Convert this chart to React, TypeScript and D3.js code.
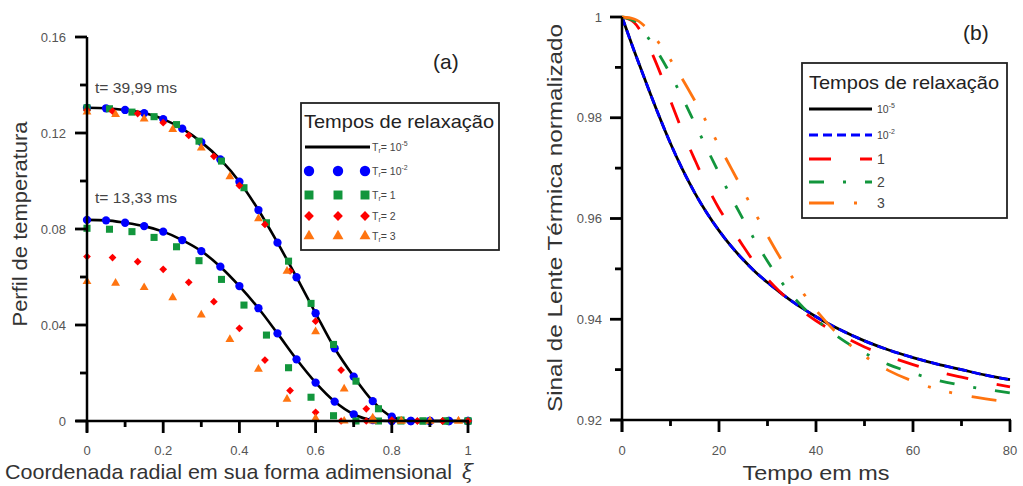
import React from 'react';
import * as d3 from 'd3';

// ---------- Panel (a) data ----------
const xiMajor = [0, 0.2, 0.4, 0.6, 0.8, 1];
const xiMajorLabels = ['0', '0.2', '0.4', '0.6', '0.8', '1'];
const xiMinor = [0.1, 0.3, 0.5, 0.7, 0.9];
const perfilMajor = [0, 0.04, 0.08, 0.12, 0.16];
const perfilMajorLabels = ['0', '0.04', '0.08', '0.12', '0.16'];
const perfilMinor = [0.02, 0.06, 0.1, 0.14];

// Tr = 1e-5 (line) and Tr = 1e-2 (blue circles)
const xiBlue = [0, 0.05, 0.1, 0.15, 0.2, 0.25, 0.3, 0.35, 0.4, 0.45, 0.5, 0.55, 0.6, 0.65, 0.7, 0.75, 0.8, 0.85, 0.9, 0.95, 1.0];
const upperBlue = [0.1305, 0.1303, 0.1296, 0.1283, 0.1258, 0.1218, 0.1162, 0.109, 0.0997, 0.0879, 0.0743, 0.0599, 0.0449, 0.0303, 0.0185, 0.0083, 0.0018, 0, 0, 0, 0];
const lowerBlue = [0.0838, 0.0836, 0.0826, 0.0812, 0.0789, 0.0754, 0.0708, 0.0643, 0.0562, 0.047, 0.0365, 0.0257, 0.016, 0.0081, 0.0028, 0.0004, 0, 0, 0, 0, 0];
const xiLine = [0, 0.05, 0.1, 0.15, 0.2, 0.25, 0.3, 0.35, 0.4, 0.45, 0.5, 0.55, 0.6, 0.65, 0.7, 0.75, 0.8, 0.85, 0.9, 0.95, 1.0];
const upperLine = [0.1305, 0.1303, 0.1296, 0.1283, 0.1258, 0.1218, 0.1162, 0.109, 0.0997, 0.0879, 0.0743, 0.0599, 0.0449, 0.0303, 0.0185, 0.0083, 0.0018, 0, 0, 0, 0];
const lowerLine = [0.0838, 0.0836, 0.0826, 0.0812, 0.0789, 0.0754, 0.0708, 0.0643, 0.0562, 0.047, 0.0365, 0.0257, 0.016, 0.0081, 0.0028, 0.0004, 0, 0, 0, 0, 0];

// Tr = 1 (green squares)
const xiGreen = [0, 0.059, 0.118, 0.176, 0.235, 0.294, 0.353, 0.412, 0.471, 0.529, 0.588, 0.647, 0.706, 0.765, 0.824, 0.882, 0.941, 1.0];
const upperGreen = [0.1305, 0.1301, 0.1287, 0.1268, 0.1235, 0.1166, 0.1083, 0.0972, 0.0826, 0.0666, 0.049, 0.0319, 0.0166, 0.0051, 0.0004, 0, 0, 0];
const lowerGreen = [0.0803, 0.0799, 0.0789, 0.0765, 0.0726, 0.0668, 0.059, 0.0483, 0.0358, 0.0222, 0.0099, 0.0022, 0, 0, 0, 0, 0, 0];

// Tr = 2 (red diamonds)
const xiRed = [0, 0.067, 0.133, 0.2, 0.267, 0.333, 0.4, 0.467, 0.533, 0.6, 0.667, 0.733, 0.8, 0.867, 0.933, 1.0];
const upperRed = [0.1295, 0.1291, 0.1281, 0.1243, 0.119, 0.1103, 0.0981, 0.0819, 0.0625, 0.0416, 0.0212, 0.0051, 0.0004, 0, 0, 0];
const lowerRed = [0.0685, 0.0681, 0.0664, 0.0632, 0.0578, 0.0497, 0.0386, 0.0254, 0.0127, 0.0036, 0, 0, 0, 0, 0, 0];

// Tr = 3 (orange triangles)
const xiOrange = [0, 0.075, 0.15, 0.225, 0.3, 0.375, 0.45, 0.525, 0.6, 0.675, 0.75, 0.825, 0.9, 0.975];
const upperOrange = [0.1288, 0.1277, 0.1259, 0.1215, 0.1138, 0.1018, 0.0843, 0.0624, 0.0372, 0.0134, 0.0013, 0, 0, 0];
const lowerOrange = [0.0581, 0.0574, 0.0556, 0.0514, 0.0442, 0.034, 0.0216, 0.0091, 0.0011, 0, 0, 0, 0, 0];

// ---------- Panel (b) data ----------
const tMajor = [0, 20, 40, 60, 80];
const tMajorLabels = ['0', '20', '40', '60', '80'];
const tMinor = [10, 30, 50, 70];
const sinalMajor = [0.92, 0.94, 0.96, 0.98, 1];
const sinalMajorLabels = ['0.92', '0.94', '0.96', '0.98', '1'];
const sinalMinor = [0.93, 0.95, 0.97, 0.99];

const tGrid = [0, 2.5, 5, 7.5, 10, 12.5, 15, 17.5, 20, 22.5, 25, 27.5, 30, 32.5, 35, 37.5, 40, 45, 50, 55, 60, 65, 70, 75, 80];
const sinalTr1e5 = [1.0, 0.9933, 0.9869, 0.9807, 0.9749, 0.9697, 0.9651, 0.9611, 0.9576, 0.9545, 0.9518, 0.9494, 0.9473, 0.9454, 0.9436, 0.942, 0.9405, 0.9379, 0.9357, 0.9339, 0.9324, 0.9311, 0.93, 0.9289, 0.928];
const sinalTr1e2 = [1.0, 0.9933, 0.9869, 0.9807, 0.9749, 0.9697, 0.9651, 0.9611, 0.9576, 0.9545, 0.9518, 0.9494, 0.9473, 0.9454, 0.9436, 0.942, 0.9405, 0.9379, 0.9357, 0.9339, 0.9324, 0.9311, 0.93, 0.9289, 0.928];
const sinalTr1 = [1.0, 0.9989, 0.9952, 0.9898, 0.9834, 0.9772, 0.9717, 0.9665, 0.962, 0.9582, 0.9545, 0.951, 0.948, 0.9455, 0.9433, 0.9414, 0.9397, 0.9369, 0.9345, 0.9326, 0.931, 0.9296, 0.9285, 0.9275, 0.9266];
const sinalTr2 = [1.0, 0.9992, 0.9964, 0.9928, 0.9886, 0.9839, 0.9789, 0.9739, 0.969, 0.9643, 0.9598, 0.9555, 0.9515, 0.9479, 0.9448, 0.9422, 0.94, 0.9362, 0.9333, 0.931, 0.9293, 0.9279, 0.9269, 0.9261, 0.9254];
const sinalTr3 = [1.0, 0.9996, 0.9979, 0.995, 0.9915, 0.9876, 0.9834, 0.979, 0.9745, 0.97, 0.9655, 0.961, 0.9566, 0.9524, 0.9485, 0.945, 0.9418, 0.9366, 0.9327, 0.9298, 0.9277, 0.9261, 0.925, 0.9242, 0.9236];

const FONT = '"Liberation Sans", Arial, Helvetica, sans-serif';
const BLUE = '#0000ff';
const GREEN = '#12963c';
const RED = '#ff0000';
const ORANGE = '#ff7410';
const TICK_COLOR = '#555';
const TITLE_COLOR = '#333';

type MarkerType = 'circle' | 'square' | 'diamond' | 'triangle';

function Marker({ type, x, y, s, color }: { type: MarkerType; x: number; y: number; s: number; color: string }) {
  let path = '';
  let rot = 0;
  if (type === 'circle') path = d3.symbol(d3.symbolCircle, s)() || '';
  else if (type === 'square') path = d3.symbol(d3.symbolSquare, s)() || '';
  else if (type === 'diamond') { path = d3.symbol(d3.symbolSquare, s)() || ''; rot = 45; }
  else path = d3.symbol(d3.symbolTriangle, s)() || '';
  return <path d={path} transform={`translate(${x},${y}) rotate(${rot})`} fill={color} />;
}

function LeftPanel() {
  const x = d3.scaleLinear().domain([0, 1]).range([87, 468]);
  const y = d3.scaleLinear().domain([0, 0.16]).range([421, 37]);
  const mk = (xs: number[]) => d3.line<number>().x((_, i) => x(xs[i])).y((d) => y(d)).curve(d3.curveMonotoneX);
  const pts = (xs: number[], ys: number[]) => ys.map((v, i) => [x(xs[i]), y(v)] as [number, number]);
  const series: { xs: number[]; ups: number[]; lows: number[]; type: MarkerType; color: string; s: number }[] = [
    { xs: xiBlue, ups: upperBlue, lows: lowerBlue, type: 'circle', color: BLUE, s: 54 },
    { xs: xiGreen, ups: upperGreen, lows: lowerGreen, type: 'square', color: GREEN, s: 50 },
    { xs: xiRed, ups: upperRed, lows: lowerRed, type: 'diamond', color: RED, s: 30 },
    { xs: xiOrange, ups: upperOrange, lows: lowerOrange, type: 'triangle', color: ORANGE, s: 34 },
  ];
  const legendRows: { type: MarkerType; color: string; label: string; sup?: string; s: number }[] = [
    { type: 'circle', color: BLUE, label: '= 10', sup: '-2', s: 85 },
    { type: 'square', color: GREEN, label: '= 1', s: 80 },
    { type: 'diamond', color: RED, label: '= 2', s: 48 },
    { type: 'triangle', color: ORANGE, label: '= 3', s: 52 },
  ];
  const rowY = [171, 195, 216, 236];
  return (
    <g>
      {/* curves */}
      <path d={mk(xiLine)(upperLine) || ''} fill="none" stroke="#000" strokeWidth={2.6} />
      <path d={mk(xiLine)(lowerLine) || ''} fill="none" stroke="#000" strokeWidth={2.6} />
      {series.map((s, si) => (
        <g key={si}>
          {pts(s.xs, s.lows).map(([px, py], i) => <Marker key={'l' + i} type={s.type} x={px} y={py} s={s.s} color={s.color} />)}
          {pts(s.xs, s.ups).map(([px, py], i) => <Marker key={'u' + i} type={s.type} x={px} y={py} s={s.s} color={s.color} />)}
        </g>
      ))}
      {/* axes */}
      <line x1={87} x2={87} y1={37} y2={432} stroke="#000" strokeWidth={2.5} />
      <line x1={76} x2={469} y1={421} y2={421} stroke="#000" strokeWidth={2.5} />
      {xiMajor.map((v, i) => (
        <g key={'xm' + i}>
          <line x1={x(v)} x2={x(v)} y1={421} y2={433} stroke="#000" strokeWidth={2.8} />
          <text x={x(v)} y={455} textAnchor="middle" fontSize={13} fill={TICK_COLOR} fontFamily={FONT}>{xiMajorLabels[i]}</text>
        </g>
      ))}
      {xiMinor.map((v, i) => <line key={'xn' + i} x1={x(v)} x2={x(v)} y1={421} y2={427} stroke="#000" strokeWidth={2.8} />)}
      {perfilMajor.map((v, i) => (
        <g key={'ym' + i}>
          <line x1={75} x2={87} y1={y(v)} y2={y(v)} stroke="#000" strokeWidth={2.8} />
          <text x={66} y={y(v) + 4.5} textAnchor="end" fontSize={13} fill={TICK_COLOR} fontFamily={FONT}>{perfilMajorLabels[i]}</text>
        </g>
      ))}
      {perfilMinor.map((v, i) => <line key={'yn' + i} x1={80} x2={87} y1={y(v)} y2={y(v)} stroke="#000" strokeWidth={2.8} />)}
      {/* titles */}
      <text transform="translate(27,224) rotate(-90)" textAnchor="middle" fontSize={21} fill={TITLE_COLOR} fontFamily={FONT} textLength={205} lengthAdjust="spacingAndGlyphs">Perfil de temperatura</text>
      <text x={5} y={479} fontSize={21} fill={TITLE_COLOR} fontFamily={FONT} textLength={447} lengthAdjust="spacingAndGlyphs">Coordenada radial em sua forma adimensional</text>
      <text x={462} y={479} fontSize={20} fill={TITLE_COLOR} fontFamily='"DejaVu Serif", serif' fontStyle="italic">ξ</text>
      <text x={95} y={93} fontSize={15} fill="#444" fontFamily={FONT} textLength={82} lengthAdjust="spacingAndGlyphs">t= 39,99 ms</text>
      <text x={95} y={203} fontSize={15} fill="#444" fontFamily={FONT} textLength={82} lengthAdjust="spacingAndGlyphs">t= 13,33 ms</text>
      <text x={433} y={69} fontSize={21} fill="#222" fontFamily={FONT}>(a)</text>
      {/* legend */}
      <rect x={301} y={103} width={198} height={147} fill="#fff" stroke="#222" strokeWidth={1.8} />
      <text x={304} y={128} fontSize={19} fill="#222" fontFamily={FONT} textLength={190} lengthAdjust="spacingAndGlyphs">Tempos de relaxação</text>
      <line x1={305} x2={370} y1={147} y2={147} stroke="#000" strokeWidth={3} />
      <text x={372} y={151} fontSize={10.5} fill="#444" fontFamily={FONT}>T<tspan fontSize={7} dy={2}>r</tspan><tspan dy={-2}>= 10</tspan><tspan fontSize={7} dy={-5}>-5</tspan></text>
      {legendRows.map((r, i) => (
        <g key={'lg' + i}>
          {[309, 338, 365].map((mx, j) => <Marker key={j} type={r.type} x={mx} y={rowY[i]} s={r.s} color={r.color} />)}
          <text x={372} y={rowY[i] + 4} fontSize={10.5} fill="#444" fontFamily={FONT}>T<tspan fontSize={7} dy={2}>r</tspan><tspan dy={-2}>{r.label}</tspan>{r.sup ? <tspan fontSize={7} dy={-5}>{r.sup}</tspan> : null}</text>
        </g>
      ))}
    </g>
  );
}

function RightPanel() {
  const x = d3.scaleLinear().domain([0, 80]).range([622, 1010]);
  const y = d3.scaleLinear().domain([0.92, 1]).range([420, 17]);
  const line = d3.line<number>().x((_, i) => x(tGrid[i])).y((d) => y(d)).curve(d3.curveMonotoneX);
  const curves = [
    { ys: sinalTr1e5, color: '#000', dash: undefined as string | undefined, label: '10', sup: '-5', big: false },
    { ys: sinalTr1e2, color: BLUE, dash: '9 5', label: '10', sup: '-2', big: false },
    { ys: sinalTr1, color: RED, dash: '22 29', label: '1', sup: undefined, big: true },
    { ys: sinalTr2, color: GREEN, dash: '15 19 3 19', label: '2', sup: undefined, big: true },
    { ys: sinalTr3, color: ORANGE, dash: '25 20 3 19 3 20', label: '3', sup: undefined, big: true },
  ];
  const rowY = [109, 135, 159, 182, 203];
  return (
    <g>
      {curves.map((c, ci) => (
        <path key={ci} d={line(c.ys) || ''} fill="none" stroke={c.color} strokeWidth={2.8} strokeDasharray={c.dash} />
      ))}
      {/* axes */}
      <line x1={622} x2={622} y1={17} y2={432} stroke="#000" strokeWidth={2.5} />
      <line x1={610} x2={1011} y1={420} y2={420} stroke="#000" strokeWidth={2.5} />
      {tMajor.map((v, i) => (
        <g key={'xm' + i}>
          <line x1={x(v)} x2={x(v)} y1={420} y2={432} stroke="#000" strokeWidth={2.8} />
          <text x={x(v)} y={455} textAnchor="middle" fontSize={13} fill={TICK_COLOR} fontFamily={FONT}>{tMajorLabels[i]}</text>
        </g>
      ))}
      {tMinor.map((v, i) => <line key={'xn' + i} x1={x(v)} x2={x(v)} y1={420} y2={426} stroke="#000" strokeWidth={2.8} />)}
      {sinalMajor.map((v, i) => (
        <g key={'ym' + i}>
          <line x1={610} x2={622} y1={y(v)} y2={y(v)} stroke="#000" strokeWidth={2.8} />
          <text x={602} y={y(v) + 4.5} textAnchor="end" fontSize={13} fill={TICK_COLOR} fontFamily={FONT}>{sinalMajorLabels[i]}</text>
        </g>
      ))}
      {sinalMinor.map((v, i) => <line key={'yn' + i} x1={615} x2={622} y1={y(v)} y2={y(v)} stroke="#000" strokeWidth={2.8} />)}
      {/* titles */}
      <text transform="translate(562,218) rotate(-90)" textAnchor="middle" fontSize={21} fill={TITLE_COLOR} fontFamily={FONT} textLength={388} lengthAdjust="spacingAndGlyphs">Sinal de Lente Térmica normalizado</text>
      <text x={816} y={480} textAnchor="middle" fontSize={21} fill={TITLE_COLOR} fontFamily={FONT} textLength={147} lengthAdjust="spacingAndGlyphs">Tempo em ms</text>
      <text x={963} y={40} fontSize={21} fill="#222" fontFamily={FONT}>(b)</text>
      {/* legend */}
      <rect x={802} y={63} width={205} height={155} fill="#fff" stroke="#222" strokeWidth={1.8} />
      <text x={809} y={89} fontSize={19} fill="#222" fontFamily={FONT} textLength={190} lengthAdjust="spacingAndGlyphs">Tempos de relaxação</text>
      {curves.map((c, i) => (
        <g key={'lg' + i}>
          <line x1={809} x2={872} y1={rowY[i]} y2={rowY[i]} stroke={c.color} strokeWidth={3} strokeDasharray={c.dash} />
          <text x={877} y={rowY[i] + (c.big ? 5 : 4)} fontSize={c.big ? 14 : 10.5} fill="#444" fontFamily={FONT}>
            {c.label}
            {c.sup ? <tspan fontSize={7} dy={-5}>{c.sup}</tspan> : null}
          </text>
        </g>
      ))}
    </g>
  );
}

export default function App() {
  return (
    <svg width={1023} height={486} style={{ position: 'fixed', left: 0, top: 0, background: '#fff' }}>
      <rect x={0} y={0} width={1023} height={486} fill="#fff" />
      <LeftPanel />
      <RightPanel />
    </svg>
  );
}
